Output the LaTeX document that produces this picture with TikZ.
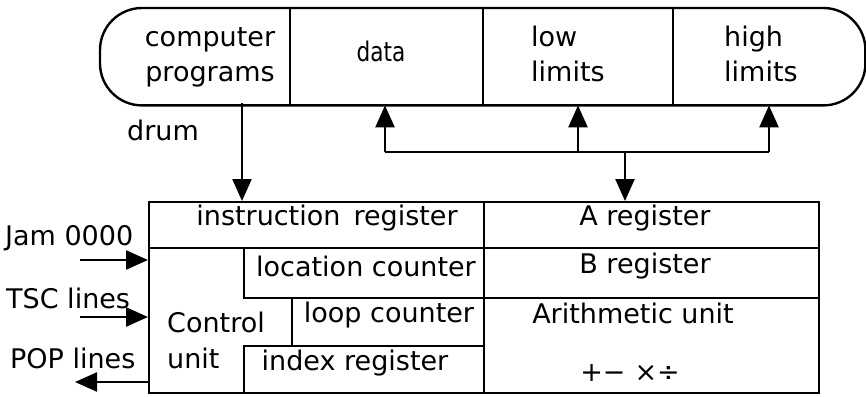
\documentclass[tikz,border=0pt]{standalone}
\usepackage{fontspec}
\setmainfont{DejaVu Sans}
\usetikzlibrary{arrows.meta}
\begin{document}
\begin{tikzpicture}[x=1pt,y=-1pt,
  line width=2.4pt,
  lbl/.style={font=\fontsize{27}{33}\selectfont, inner sep=0pt, anchor=base},
  lbll/.style={lbl, anchor=base west},
  cell/.style={inner sep=0pt, anchor=north west},
  box/.style={cell, draw},
  arr/.style={-{Triangle[length=22pt,width=19pt]}, line width=2.4pt},
]
\useasboundingbox (0,0) rectangle (866,396);

% drum cells
\node[cell, minimum width=190pt, minimum height=95pt] (prog) at (100,8) {};
\node[cell, minimum width=193pt, minimum height=95pt] (data) at (290,8) {};
\node[cell, minimum width=190pt, minimum height=95pt] (low)  at (483,8) {};
\node[cell, minimum width=190pt, minimum height=95pt] (high) at (673,8) {};
\draw[rounded corners=42pt] (prog.north west) rectangle (high.south east);
\draw (data.north west) -- (data.south west);
\draw (low.north west) -- (low.south west);
\draw (high.north west) -- (high.south west);

\node[lbl] (t1) at (210,47) {computer};
\node[lbl] (t2) at (210,81) {programs};
\node[lbl] (t3) at (381,62) {\scalebox{0.8}[1]{data}};
\node[lbll] (t4) at (530,46) {low};
\node[lbll] (t5) at (530,81) {limits};
\node[lbll] (t6) at (723,46) {high};
\node[lbll] (t7) at (723,81) {limits};
\node[lbl] (t8) at (163,140) {drum};

% processor boxes
\node[box, minimum width=335pt, minimum height=46pt] (ireg) at (148,201) {};
\node[box, minimum width=335pt, minimum height=145pt] (ctrl) at (148,247) {};
\node[box, minimum width=240pt, minimum height=50pt] (loc)  at (243,247) {};
\node[box, minimum width=192pt, minimum height=48pt] (loop) at (291,297) {};
\node[box, minimum width=240pt, minimum height=47pt] (idx)  at (243,345) {};
\node[box, minimum width=335pt, minimum height=46pt] (areg) at (483,201) {};
\node[box, minimum width=335pt, minimum height=50pt] (breg) at (483,247) {};
\node[box, minimum width=335pt, minimum height=95pt] (alu)  at (483,297) {};

\node[lbl] (u1) at (327,225) {instruction\, register};
\node[lbl] (u2) at (366,276) {location counter};
\node[lbl] (u3) at (389,322) {loop counter};
\node[lbl] (u4) at (355,370) {index register};
\node[lbll] (u5) at (166,332) {Control};
\node[lbll] (u6) at (166,368) {unit};
\node[lbl] (v1) at (645,225) {A register};
\node[lbl] (v2) at (645,273) {B register};
\node[lbl] (v3) at (633,323) {Arithmetic unit};
\node[lbl] (v4) at (630,381) {+−\,\,×÷};

\node[lbll] (w1) at (4,245) {Jam 0000};
\node[lbll] (w2) at (5,308) {TSC lines};
\node[lbll] (w3) at (9,368) {POP lines};

% drum to instruction register
\coordinate (dr) at (242,103);
\draw[arr] (dr) -- (dr |- ireg.north);

% data bus between drum and A register
\coordinate (busL) at (385,152);
\coordinate (busM) at (578,152);
\coordinate (busD) at (625,152);
\coordinate (busR) at (769,152);
\draw (busL) -- (busR);
\draw[arr] (busL) -- (busL |- data.south);
\draw[arr] (busM) -- (busM |- low.south);
\draw[arr] (busR) -- (busR |- high.south);
\draw[arr] (busD) -- (busD |- areg.north);

% control lines
\coordinate (jam) at (80,260);
\coordinate (tsc) at (80,317);
\coordinate (pop) at (75,382);
\draw[arr] (jam) -- (jam -| ctrl.west);
\draw[arr] (tsc) -- (tsc -| ctrl.west);
\draw[arr] (pop -| ctrl.west) -- (pop);
\end{tikzpicture}
\end{document}
